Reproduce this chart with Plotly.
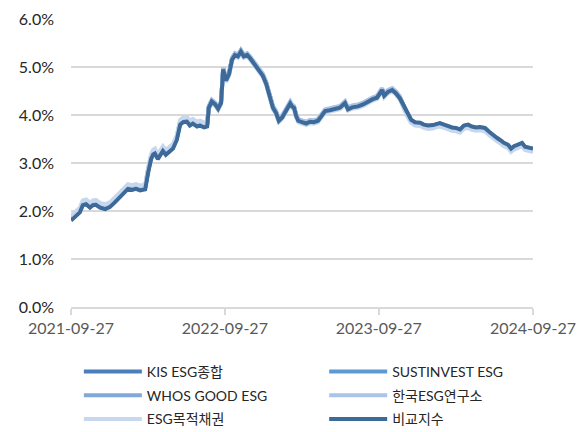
import plotly.graph_objects as go

dates = [
    "2021-09-27", "2021-10-06", "2021-10-18", "2021-10-25", "2021-11-02", "2021-11-11", "2021-11-18", "2021-11-25",
    "2021-12-05", "2021-12-17", "2021-12-28", "2022-01-09", "2022-01-21", "2022-02-02", "2022-02-09", "2022-02-19",
    "2022-02-28", "2022-03-10", "2022-03-22", "2022-03-29", "2022-04-05", "2022-04-10", "2022-04-14", "2022-04-21",
    "2022-04-29", "2022-05-03", "2022-05-10", "2022-05-17", "2022-05-27", "2022-06-05", "2022-06-13", "2022-06-20",
    "2022-06-29", "2022-07-06", "2022-07-13", "2022-07-23", "2022-07-30", "2022-08-09", "2022-08-16", "2022-08-20",
    "2022-08-27", "2022-09-04", "2022-09-11", "2022-09-18", "2022-09-23", "2022-09-30", "2022-10-07", "2022-10-14",
    "2022-10-21", "2022-10-28", "2022-11-04", "2022-11-11", "2022-11-19", "2022-11-26", "2022-12-05", "2022-12-12",
    "2022-12-19", "2022-12-26", "2023-01-03", "2023-01-07", "2023-01-12", "2023-01-19", "2023-01-26", "2023-02-02",
    "2023-02-10", "2023-02-17", "2023-02-24", "2023-03-01", "2023-03-05", "2023-03-10", "2023-03-15", "2023-03-20",
    "2023-03-29", "2023-04-08", "2023-04-17", "2023-04-26", "2023-05-06", "2023-05-15", "2023-05-23", "2023-06-03",
    "2023-06-15", "2023-06-27", "2023-07-09", "2023-07-16", "2023-07-26", "2023-08-09", "2023-08-21", "2023-09-02",
    "2023-09-13", "2023-09-23", "2023-10-05", "2023-10-10", "2023-10-19", "2023-10-29", "2023-11-07", "2023-11-16",
    "2023-11-26", "2023-12-05", "2023-12-13", "2023-12-22", "2024-01-03", "2024-01-12", "2024-01-22", "2024-02-03",
    "2024-02-12", "2024-02-19", "2024-02-29", "2024-03-07", "2024-03-19", "2024-03-28", "2024-04-07", "2024-04-16",
    "2024-04-26", "2024-05-05", "2024-05-15", "2024-05-24", "2024-06-05", "2024-06-15", "2024-06-24", "2024-07-04",
    "2024-07-11", "2024-07-20", "2024-07-30", "2024-08-06", "2024-08-13", "2024-08-22", "2024-09-01", "2024-09-08",
    "2024-09-18", "2024-09-27",
]

kis_esg = [
    1.83, 1.91, 2.00, 2.15, 2.17, 2.10, 2.15, 2.16, 2.10, 2.07, 2.11, 2.21, 2.33, 2.43, 2.49, 2.47, 2.49, 2.46, 2.48, 2.83,
    3.11, 3.21, 3.23, 3.11, 3.25, 3.28, 3.20, 3.25, 3.33, 3.51, 3.83, 3.88, 3.89, 3.81, 3.85, 3.79, 3.81, 3.77, 3.79,
    4.17, 4.30, 4.24, 4.15, 4.27, 4.97, 4.74, 4.87, 5.17, 5.27, 5.24, 5.34, 5.24, 5.27, 5.20, 5.10, 5.00, 4.92, 4.84, 4.67,
    4.54, 4.32, 4.17, 4.07, 3.90, 3.97, 4.07, 4.17, 4.26, 4.20, 4.17, 4.00, 3.90, 3.87, 3.84, 3.88, 3.87, 3.90, 4.02, 4.10,
    4.12, 4.14, 4.17, 4.27, 4.14, 4.18, 4.20, 4.24, 4.30, 4.35, 4.38, 4.54, 4.42, 4.50, 4.54, 4.47, 4.37,
    4.17, 4.01, 3.89, 3.84, 3.83, 3.79, 3.77, 3.78, 3.81, 3.82, 3.79, 3.76, 3.73, 3.72, 3.69, 3.77, 3.79, 3.75, 3.73, 3.74,
    3.72, 3.64, 3.57, 3.51, 3.47, 3.41, 3.37, 3.29, 3.34, 3.37, 3.41, 3.33, 3.31, 3.29,
]

sustinvest_esg = [
    1.85, 1.93, 2.02, 2.17, 2.19, 2.12, 2.17, 2.18, 2.12, 2.09, 2.13, 2.23, 2.35, 2.45, 2.51, 2.49, 2.51, 2.48, 2.50, 2.85,
    3.13, 3.23, 3.25, 3.13, 3.27, 3.30, 3.22, 3.27, 3.35, 3.53, 3.85, 3.90, 3.91, 3.83, 3.87, 3.81, 3.83, 3.79, 3.81,
    4.18, 4.31, 4.25, 4.16, 4.28, 4.98, 4.75, 4.88, 5.18, 5.28, 5.25, 5.35, 5.25, 5.28, 5.21, 5.11, 5.01, 4.93, 4.85, 4.68,
    4.55, 4.33, 4.18, 4.08, 3.91, 3.98, 4.08, 4.18, 4.27, 4.21, 4.18, 4.01, 3.91, 3.88, 3.85, 3.89, 3.88, 3.91, 4.03, 4.11,
    4.13, 4.15, 4.18, 4.28, 4.15, 4.19, 4.21, 4.25, 4.31, 4.36, 4.39, 4.55, 4.43, 4.51, 4.55, 4.48, 4.38,
    4.16, 4.00, 3.88, 3.83, 3.82, 3.78, 3.76, 3.77, 3.80, 3.81, 3.78, 3.75, 3.72, 3.71, 3.68, 3.76, 3.78, 3.74, 3.72, 3.73,
    3.71, 3.63, 3.56, 3.50, 3.46, 3.40, 3.36, 3.28, 3.33, 3.36, 3.40, 3.32, 3.30, 3.28,
]

whos_good_esg = [
    1.86, 1.94, 2.03, 2.18, 2.20, 2.13, 2.18, 2.19, 2.13, 2.10, 2.14, 2.24, 2.36, 2.46, 2.52, 2.50, 2.52, 2.49, 2.51, 2.86,
    3.14, 3.24, 3.26, 3.14, 3.28, 3.31, 3.23, 3.28, 3.36, 3.54, 3.86, 3.91, 3.92, 3.84, 3.88, 3.82, 3.84, 3.80, 3.82,
    4.16, 4.29, 4.23, 4.14, 4.26, 4.96, 4.73, 4.86, 5.16, 5.26, 5.23, 5.33, 5.23, 5.26, 5.19, 5.09, 4.99, 4.91, 4.83, 4.66,
    4.53, 4.31, 4.16, 4.06, 3.89, 3.96, 4.06, 4.16, 4.25, 4.19, 4.16, 3.99, 3.89, 3.86, 3.83, 3.87, 3.86, 3.89, 4.01, 4.09,
    4.11, 4.13, 4.16, 4.26, 4.13, 4.17, 4.19, 4.23, 4.29, 4.34, 4.37, 4.53, 4.41, 4.49, 4.53, 4.46, 4.36,
    4.15, 3.99, 3.87, 3.82, 3.81, 3.77, 3.75, 3.76, 3.79, 3.80, 3.77, 3.74, 3.71, 3.70, 3.67, 3.75, 3.77, 3.73, 3.71, 3.72,
    3.70, 3.62, 3.55, 3.49, 3.45, 3.39, 3.35, 3.27, 3.32, 3.35, 3.39, 3.31, 3.29, 3.27,
]

korea_esg_inst = [
    1.88, 1.96, 2.05, 2.20, 2.22, 2.15, 2.20, 2.21, 2.15, 2.12, 2.16, 2.26, 2.38, 2.48, 2.54, 2.52, 2.54, 2.51, 2.53, 2.88,
    3.16, 3.26, 3.28, 3.16, 3.30, 3.33, 3.25, 3.30, 3.38, 3.56, 3.88, 3.93, 3.94, 3.86, 3.90, 3.84, 3.86, 3.82, 3.84,
    4.19, 4.32, 4.26, 4.17, 4.29, 4.99, 4.76, 4.89, 5.19, 5.29, 5.26, 5.36, 5.26, 5.29, 5.22, 5.12, 5.02, 4.94, 4.86, 4.69,
    4.56, 4.34, 4.19, 4.09, 3.92, 3.99, 4.09, 4.19, 4.28, 4.22, 4.19, 4.02, 3.92, 3.89, 3.86, 3.90, 3.89, 3.92, 4.04, 4.12,
    4.14, 4.16, 4.19, 4.29, 4.16, 4.20, 4.22, 4.26, 4.32, 4.37, 4.40, 4.56, 4.44, 4.52, 4.56, 4.49, 4.39,
    4.13, 3.97, 3.85, 3.80, 3.79, 3.75, 3.73, 3.74, 3.77, 3.78, 3.75, 3.72, 3.69, 3.68, 3.65, 3.73, 3.75, 3.71, 3.69, 3.70,
    3.68, 3.60, 3.53, 3.47, 3.43, 3.37, 3.33, 3.25, 3.30, 3.33, 3.37, 3.29, 3.27, 3.25,
]

esg_purpose_bond = [
    1.90, 1.98, 2.07, 2.22, 2.24, 2.17, 2.22, 2.23, 2.17, 2.14, 2.18, 2.28, 2.40, 2.50, 2.56, 2.54, 2.56, 2.53, 2.55, 2.90,
    3.18, 3.28, 3.30, 3.18, 3.32, 3.35, 3.27, 3.32, 3.40, 3.58, 3.90, 3.95, 3.96, 3.88, 3.92, 3.86, 3.88, 3.84, 3.86,
    4.12, 4.25, 4.19, 4.10, 4.22, 4.92, 4.69, 4.82, 5.12, 5.22, 5.19, 5.29, 5.19, 5.22, 5.15, 5.05, 4.95, 4.87, 4.79, 4.62,
    4.49, 4.27, 4.12, 4.02, 3.85, 3.92, 4.02, 4.12, 4.21, 4.15, 4.12, 3.95, 3.85, 3.82, 3.79, 3.83, 3.82, 3.85, 3.97, 4.05,
    4.07, 4.09, 4.12, 4.22, 4.09, 4.13, 4.15, 4.19, 4.25, 4.30, 4.33, 4.49, 4.37, 4.45, 4.49, 4.42, 4.32,
    4.11, 3.95, 3.83, 3.78, 3.77, 3.73, 3.71, 3.72, 3.75, 3.76, 3.73, 3.70, 3.67, 3.66, 3.63, 3.71, 3.73, 3.69, 3.67, 3.68,
    3.66, 3.58, 3.51, 3.45, 3.41, 3.35, 3.31, 3.23, 3.28, 3.31, 3.35, 3.27, 3.25, 3.23,
]

benchmark = [
    1.80, 1.88, 1.97, 2.12, 2.14, 2.07, 2.12, 2.13, 2.07, 2.04, 2.08, 2.18, 2.30, 2.40, 2.46, 2.44, 2.46, 2.43, 2.45, 2.80,
    3.08, 3.18, 3.20, 3.08, 3.22, 3.25, 3.17, 3.22, 3.30, 3.48, 3.80, 3.85, 3.86, 3.78, 3.82, 3.76, 3.78, 3.74, 3.76,
    4.15, 4.28, 4.22, 4.13, 4.25, 4.95, 4.72, 4.85, 5.15, 5.25, 5.22, 5.32, 5.22, 5.25, 5.18, 5.08, 4.98, 4.90, 4.82, 4.65,
    4.52, 4.30, 4.15, 4.05, 3.88, 3.95, 4.05, 4.15, 4.24, 4.18, 4.15, 3.98, 3.88, 3.85, 3.82, 3.86, 3.85, 3.88, 4.00, 4.08,
    4.10, 4.12, 4.15, 4.25, 4.12, 4.16, 4.18, 4.22, 4.28, 4.33, 4.36, 4.52, 4.40, 4.48, 4.52, 4.45, 4.35,
    4.18, 4.02, 3.90, 3.85, 3.84, 3.80, 3.78, 3.79, 3.82, 3.83, 3.80, 3.77, 3.74, 3.73, 3.70, 3.78, 3.80, 3.76, 3.74, 3.75,
    3.73, 3.65, 3.58, 3.52, 3.48, 3.42, 3.38, 3.30, 3.35, 3.38, 3.42, 3.34, 3.32, 3.30,
]

series_names = ["KIS ESG종합", "SUSTINVEST ESG", "WHOS GOOD ESG", "한국ESG연구소", "ESG목적채권", "비교지수"]
series_values = [kis_esg, sustinvest_esg, whos_good_esg, korea_esg_inst, esg_purpose_bond, benchmark]
series_colors = ["#4a7fbd", "#5b9bd5", "#80a9db", "#a9c4e8", "#c6d7ee", "#3d6a98"]
series_legend = ["legend", "legend2", "legend", "legend2", "legend", "legend2"]

x_tick_vals = ["2021-09-27", "2022-09-27", "2023-09-27", "2024-09-27"]
x_tick_text = ["2021-09-27", "2022-09-27", "2023-09-27", "2024-09-27"]
y_tick_vals = [0, 1, 2, 3, 4, 5, 6]
y_tick_text = ["0.0%", "1.0%", "2.0%", "3.0%", "4.0%", "5.0%", "6.0%"]

FONT = "Lato, 'Noto Sans CJK KR', sans-serif"

fig = go.Figure()
for i, (name, vals, col, lg) in enumerate(zip(series_names, series_values, series_colors, series_legend)):
    fig.add_trace(go.Scatter(
        x=dates, y=vals, name=name, mode="lines",
        line=dict(color=col, width=4),
        legend=lg, legendgroup="g%d" % i,
    ))

legend_common = dict(
    orientation="v",
    xanchor="left",
    y=-0.17, yanchor="top",
    itemwidth=58,
    tracegroupgap=2.5,
    traceorder="grouped",
    font=dict(family=FONT, size=14, color="#262626"),
    bgcolor="rgba(0,0,0,0)",
)

# page body adds an 8px offset; margins compensate so the plot lands where the reference has it
fig.update_layout(
    width=586, height=432,
    margin=dict(l=63, r=61, t=11, b=133, autoexpand=False),
    paper_bgcolor="white", plot_bgcolor="white",
    font=dict(family=FONT, size=16, color="#404040"),
    showlegend=True,
    legend=dict(x=0.017, **legend_common),
    legend2=dict(x=0.548, **legend_common),
    xaxis=dict(
        type="date",
        range=["2021-09-27", "2024-09-27"],
        tickmode="array", tickvals=x_tick_vals, ticktext=x_tick_text,
        showgrid=False, zeroline=False,
        showline=True, linecolor="#d9d9d9", linewidth=2,
        ticks="outside", ticklen=6, tickcolor="#d9d9d9", tickwidth=2,
        tickfont=dict(family=FONT, size=16, color="#595959"),
        fixedrange=True,
    ),
    yaxis=dict(
        range=[0, 6],
        tickmode="array", tickvals=y_tick_vals, ticktext=y_tick_text,
        showgrid=True, gridcolor="#d9d9d9", gridwidth=1.5,
        zeroline=False, showline=False, ticks="",
        ticklabelstandoff=16,
        tickfont=dict(family=FONT, size=16, color="#262626"),
        fixedrange=True,
    ),
)

fig.write_html("out.html")
